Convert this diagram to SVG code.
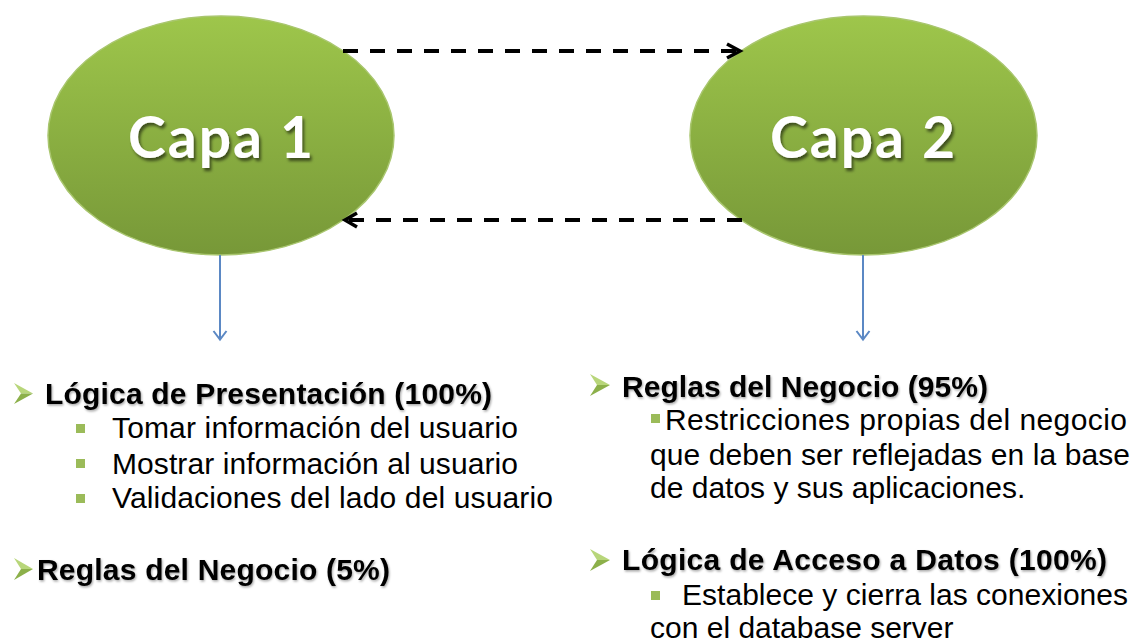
<svg xmlns="http://www.w3.org/2000/svg" width="1140" height="644" viewBox="0 0 1140 644">
<style>
.t{font-family:"Liberation Sans",Arial,sans-serif;font-size:30px;fill:#000}
.b{font-weight:bold;filter:url(#ts)}
.cap{font-family:Lato,"Open Sans",sans-serif;font-weight:bold;font-size:57px;fill:#fff;text-anchor:middle;filter:url(#cs)}
.dash{stroke:#000;stroke-width:4;stroke-dasharray:15 12;fill:none}
.head{stroke:#000;stroke-width:3.5;fill:none;stroke-linejoin:miter}
.blue{stroke:#5b88c4;stroke-width:2;fill:none}
.sq{fill:#9bbb59}
.chl{fill:#b8d67a}
.chd{fill:#8cb04a}
</style>
<defs>
<linearGradient id="g" x1="0" y1="0" x2="0" y2="1">
<stop offset="0" stop-color="#9ec64b"/>
<stop offset="1" stop-color="#779838"/>
</linearGradient>
<filter id="cs" x="-20%" y="-20%" width="140%" height="150%">
<feDropShadow dx="2" dy="3" stdDeviation="1.5" flood-color="#000" flood-opacity="0.55"/>
</filter>
<filter id="ts" x="-5%" y="-20%" width="110%" height="150%">
<feDropShadow dx="1" dy="1.5" stdDeviation="1" flood-color="#000" flood-opacity="0.35"/>
</filter>
</defs>
<rect width="1140" height="644" fill="#fff"/>

<g id="capa1">
<ellipse cx="221" cy="135.5" rx="173" ry="119.5" fill="url(#g)" stroke="#a9c66f" stroke-width="1.5"/>
<text class="cap" x="220.5" y="158" textLength="185">Capa 1</text>
</g>

<g id="capa2">
<ellipse cx="863.5" cy="135.5" rx="173.5" ry="119.5" fill="url(#g)" stroke="#a9c66f" stroke-width="1.5"/>
<text class="cap" x="862.5" y="158" textLength="185">Capa 2</text>
</g>

<g id="connectors">
<line class="dash" x1="343" y1="51" x2="737" y2="51"/>
<polyline class="head" points="727,44 740,51 727,58"/>
<line class="dash" x1="742" y1="220" x2="348" y2="220"/>
<polyline class="head" points="357,213 345,220 357,227"/>
<line class="blue" x1="220" y1="255" x2="220" y2="339"/>
<polyline class="blue" points="213.5,331 220,339.5 226.5,331"/>
<line class="blue" x1="863" y1="255" x2="863" y2="339"/>
<polyline class="blue" points="856.5,331 863,339.5 869.5,331"/>
</g>

<g id="capa1-text">
<polygon class="chl" points="14,383 33,393.5 21,393.5"/>
<polygon class="chd" points="14,404 33,393.5 21,393.5"/>
<text class="t b" x="45" y="404" textLength="447" lengthAdjust="spacing">Lógica de Presentación (100%)</text>
<rect class="sq" x="76" y="424" width="9" height="9"/>
<text class="t" x="112" y="438" textLength="406" lengthAdjust="spacing">Tomar información del usuario</text>
<rect class="sq" x="76" y="459" width="9" height="9"/>
<text class="t" x="112" y="474" textLength="406" lengthAdjust="spacing">Mostrar información al usuario</text>
<rect class="sq" x="76" y="494" width="9" height="9"/>
<text class="t" x="112" y="508" textLength="441" lengthAdjust="spacing">Validaciones del lado del usuario</text>
<polygon class="chl" points="14,558 33,569 21,569"/>
<polygon class="chd" points="14,580 33,569 21,569"/>
<text class="t b" x="37" y="580" textLength="353" lengthAdjust="spacing">Reglas del Negocio (5%)</text>
</g>

<g id="capa2-text">
<polygon class="chl" points="590,374 610,385 597,385"/>
<polygon class="chd" points="590,396 610,385 597,385"/>
<text class="t b" x="622" y="397" textLength="366" lengthAdjust="spacing">Reglas del Negocio (95%)</text>
<rect class="sq" x="651" y="414" width="9" height="9"/>
<text class="t" x="665" y="430" textLength="462" lengthAdjust="spacing">Restricciones propias del negocio</text>
<text class="t" x="650" y="465" textLength="480" lengthAdjust="spacing">que deben ser reflejadas en la base</text>
<text class="t" x="650" y="498">de datos y sus aplicaciones.</text>
<polygon class="chl" points="590,549 610,560 597,560"/>
<polygon class="chd" points="590,571 610,560 597,560"/>
<text class="t b" x="622" y="570" textLength="485" lengthAdjust="spacing">Lógica de Acceso a Datos (100%)</text>
<rect class="sq" x="651" y="591" width="9" height="9"/>
<text class="t" x="682" y="605" textLength="446" lengthAdjust="spacing">Establece y cierra las conexiones</text>
<text class="t" x="650" y="638">con el database server</text>
</g>
</svg>
